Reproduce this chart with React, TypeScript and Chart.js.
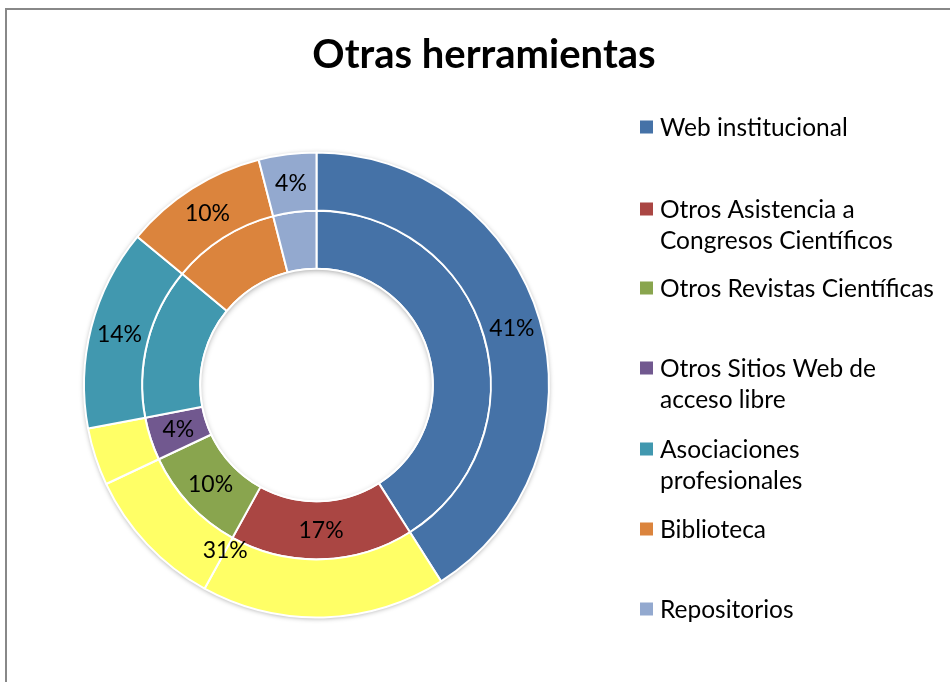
import React, { useEffect, useRef } from "react";
import { Chart, registerables } from "chart.js";

Chart.register(...registerables);

const titleText = "Otras herramientas";
const categories = [
  "Web institucional",
  "Otros Asistencia a Congresos Científicos",
  "Otros Revistas Científicas",
  "Otros Sitios Web de acceso libre",
  "Asociaciones profesionales",
  "Biblioteca",
  "Repositorios",
];
const legendLines = [
  ["Web institucional"],
  ["Otros Asistencia a", "Congresos Científicos"],
  ["Otros Revistas Científicas"],
  ["Otros Sitios Web de", "acceso libre"],
  ["Asociaciones", "profesionales"],
  ["Biblioteca"],
  ["Repositorios"],
];
const outerValues = [41, 17, 10, 4, 14, 10, 4];
const innerValues = [41, 17, 10, 4, 14, 10, 4];
const categoryColors = ["#4572A7", "#AA4643", "#89A54E", "#71588F", "#4198AF", "#DB843D", "#93A9CF"];
const groupedColor = "#FFFF66";
const groupedIndexes = [1, 2, 3];
const outerLabelIndexes = [0, 4, 5, 6];
const innerLabelIndexes = [1, 2, 3];

const FONT = 'Lato, "Open Sans", "DejaVu Sans", sans-serif';

const pct = (v: number, total: number) => `${Math.round((v / total) * 100)}%`;

const decorPlugin = {
  id: "decor",
  beforeDatasetsDraw(chart: any) {
    const ctx = chart.ctx;
    const arc = chart.getDatasetMeta(0).data[0];
    if (!arc) return;
    const { x, y, outerRadius } = arc.getProps(["x", "y", "outerRadius"], true);
    ctx.save();
    ctx.beginPath();
    ctx.arc(x, y, outerRadius, 0, Math.PI * 2);
    ctx.fillStyle = "#ffffff";
    ctx.shadowColor = "rgba(0,0,0,0.35)";
    ctx.shadowBlur = 5;
    ctx.shadowOffsetY = 1;
    ctx.fill();
    ctx.restore();
  },
  afterDatasetsDraw(chart: any) {
    const ctx = chart.ctx;
    const outerMeta = chart.getDatasetMeta(0);
    const innerMeta = chart.getDatasetMeta(1);
    const outerTotal = outerValues.reduce((a, b) => a + b, 0);
    const innerTotal = innerValues.reduce((a, b) => a + b, 0);

    // inner hole inset shadow
    const ia = innerMeta.data[0];
    const { x, y, innerRadius } = ia.getProps(["x", "y", "innerRadius"], true);
    ctx.save();
    ctx.beginPath();
    ctx.arc(x, y, innerRadius, 0, Math.PI * 2);
    ctx.clip();
    ctx.beginPath();
    ctx.arc(x, y, innerRadius + 6, 0, Math.PI * 2);
    ctx.lineWidth = 10;
    ctx.strokeStyle = "#ffffff";
    ctx.shadowColor = "rgba(0,0,0,0.45)";
    ctx.shadowBlur = 6;
    ctx.shadowOffsetY = 2;
    ctx.stroke();
    ctx.restore();
    ctx.save();
    ctx.beginPath();
    ctx.arc(x, y, innerRadius, 0, Math.PI * 2);
    ctx.lineWidth = 2;
    ctx.strokeStyle = "#ffffff";
    ctx.stroke();
    ctx.restore();

    ctx.save();
    ctx.font = `23px ${FONT}`;
    ctx.fillStyle = "#000000";
    ctx.textAlign = "center";
    ctx.textBaseline = "middle";
    outerLabelIndexes.forEach((i) => {
      const p = outerMeta.data[i].tooltipPosition(true);
      ctx.fillText(pct(outerValues[i], outerTotal), p.x, p.y);
    });
    innerLabelIndexes.forEach((i) => {
      const p = innerMeta.data[i].tooltipPosition(true);
      ctx.fillText(pct(innerValues[i], innerTotal), p.x, p.y);
    });
    // grouped label on the outer ring
    const groupSum = groupedIndexes.reduce((s, i) => s + outerValues[i], 0);
    const g = outerMeta.data[groupedIndexes[0]].getProps(
      ["x", "y", "endAngle", "innerRadius", "outerRadius"],
      true
    );
    const r = (g.innerRadius + g.outerRadius) / 2 - 14;
    ctx.fillText(
      pct(groupSum, outerTotal),
      g.x + Math.cos(g.endAngle) * r,
      g.y + Math.sin(g.endAngle) * r
    );
    ctx.restore();
  },
  afterDraw(chart: any) {
    const ctx = chart.ctx;
    ctx.save();
    // frame
    ctx.strokeStyle = "#888888";
    ctx.lineWidth = 2;
    ctx.beginPath();
    ctx.moveTo(6, 700);
    ctx.lineTo(6, 9);
    ctx.lineTo(960, 9);
    ctx.stroke();

    // title
    ctx.fillStyle = "#000000";
    ctx.font = `bold 40px ${FONT}`;
    ctx.textAlign = "center";
    ctx.textBaseline = "alphabetic";
    ctx.fillText(titleText, 484, 68);

    // legend
    const itemCenters = [127, 209, 288, 368, 449, 529, 609];
    ctx.font = `24.5px ${FONT}`;
    ctx.textAlign = "left";
    categories.forEach((_, i) => {
      const cy = itemCenters[i];
      ctx.fillStyle = categoryColors[i];
      ctx.fillRect(640, cy - 6.5, 13, 13);
      ctx.fillStyle = "#000000";
      legendLines[i].forEach((line, j) => {
        ctx.fillText(line, 660, cy + 8.5 + j * 31);
      });
    });
    ctx.restore();
  },
};

export default function App() {
  const ref = useRef<HTMLCanvasElement | null>(null);
  useEffect(() => {
    if (!ref.current) return;
    const outerColors = categoryColors.map((c, i) => (groupedIndexes.includes(i) ? groupedColor : c));
    const chart = new Chart(ref.current, {
      type: "doughnut",
      data: {
        labels: categories,
        datasets: [
          {
            data: outerValues,
            backgroundColor: outerColors,
            borderColor: "#ffffff",
            borderWidth: 2,
          },
          {
            data: innerValues,
            backgroundColor: categoryColors,
            borderColor: "#ffffff",
            borderWidth: 2,
          },
        ],
      },
      options: {
        responsive: false,
        animation: false,
        devicePixelRatio: 1,
        cutout: "50%",
        layout: { padding: { left: 83, right: 400, top: 151, bottom: 63 } },
        plugins: {
          legend: { display: false },
          title: { display: false },
          tooltip: { enabled: false },
        },
      },
      plugins: [decorPlugin],
    });
    return () => chart.destroy();
  }, []);
  return (
    <div style={{ position: "absolute", left: 0, top: 0, width: 950, height: 682, background: "#ffffff" }}>
      <canvas ref={ref} width={950} height={682} />
    </div>
  );
}
